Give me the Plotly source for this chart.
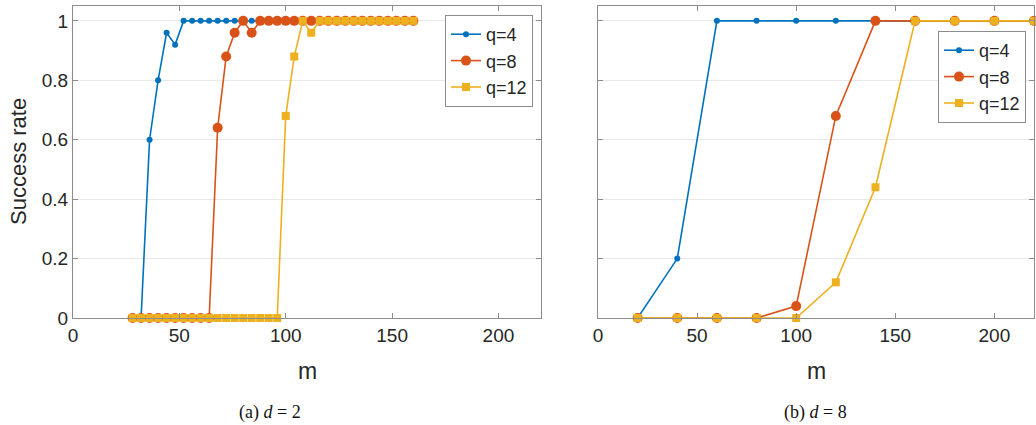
import plotly.graph_objects as go

# ---- data ----
m_a = [28, 32, 36, 40, 44, 48, 52, 56, 60, 64, 68, 72, 76, 80, 84, 88, 92, 96,
       100, 104, 108, 112, 116, 120, 124, 128, 132, 136, 140, 144, 148, 152, 156, 160]
q4_a = [0, 0, 0.6, 0.8, 0.96, 0.92] + [1] * 28
q8_a = [0] * 10 + [0.64, 0.88, 0.96, 1, 0.96] + [1] * 19
q12_a = [0] * 18 + [0.68, 0.88, 1, 0.96] + [1] * 12

m_b = [20, 40, 60, 80, 100, 120, 140, 160, 180, 200, 220]
q4_b = [0, 0.2, 1, 1, 1, 1, 1, 1, 1, 1, 1]
q8_b = [0, 0, 0, 0, 0.04, 0.68, 1, 1, 1, 1, 1]
q12_b = [0, 0, 0, 0, 0, 0.12, 0.44, 1, 1, 1, 1]

series_names = ["q=4", "q=8", "q=12"]
colors = ["#0072BD", "#D95319", "#EDB120"]
symbols = ["circle", "circle", "square"]
sizes = [6, 10, 8]

x_ticks = [0, 50, 100, 150, 200]
y_ticks = [0, 0.2, 0.4, 0.6, 0.8, 1]
y_ticktext = ["0", "0.2", "0.4", "0.6", "0.8", "1"]

W, H = 1036, 425
FONT = "Liberation Sans, Arial, sans-serif"
TXT = "#262626"

fig = go.Figure()

panels = [
    (m_a, [q4_a, q8_a, q12_a], "x", "y", "legend"),
    (m_b, [q4_b, q8_b, q12_b], "x2", "y2", "legend2"),
]
for mx, ys, xa, ya, lg in panels:
    for name, yv, c, s, sz in zip(series_names, ys, colors, symbols, sizes):
        fig.add_trace(go.Scatter(
            x=mx, y=yv, name=name, mode="lines+markers",
            line=dict(color=c, width=1.6),
            marker=dict(color=c, symbol=s, size=sz, line=dict(width=0)),
            xaxis=xa, yaxis=ya, legend=lg, cliponaxis=False,
        ))

def px_x(p):
    return p / W

def px_y(p):
    return 1 - p / H

axis_common = dict(
    showline=True, linecolor="#8c8c8c", linewidth=1, mirror="ticks",
    ticks="inside", ticklen=5, tickcolor="#8c8c8c", tickwidth=1,
    tickfont=dict(family=FONT, size=19, color=TXT), zeroline=False,
    automargin=False,
)

legend_common = dict(
    xanchor="right", yanchor="top",
    bgcolor="white", bordercolor="#8c8c8c", borderwidth=1,
    font=dict(family=FONT, size=18, color=TXT),
    tracegroupgap=0, itemwidth=30,
)

fig.update_layout(
    width=W, height=H,
    margin=dict(l=0, r=0, t=0, b=0, autoexpand=False),
    paper_bgcolor="white", plot_bgcolor="white",
    xaxis=dict(domain=[px_x(73), px_x(541)], range=[0, 220], tickvals=x_ticks,
               showgrid=False, anchor="y", **axis_common),
    yaxis=dict(domain=[px_y(318), px_y(6)], range=[0, 1.05], tickvals=y_ticks,
               ticktext=y_ticktext, showgrid=True, gridcolor="#e8e8e8",
               anchor="x", **axis_common),
    xaxis2=dict(domain=[px_x(598), px_x(1034)], range=[0, 220], tickvals=x_ticks,
                showgrid=False, anchor="y2", **axis_common),
    yaxis2=dict(domain=[px_y(318), px_y(6)], range=[0, 1.05], tickvals=y_ticks,
                showticklabels=False, showgrid=True, gridcolor="#e8e8e8",
                anchor="x2", **axis_common),
    legend=dict(x=px_x(533), y=px_y(15), **legend_common),
    legend2=dict(x=px_x(1026), y=px_y(31), **legend_common),
    showlegend=True,
)

annotations = [
    dict(text="Success rate", x=px_x(19), y=px_y(162), textangle=-90,
         font=dict(family=FONT, size=22, color=TXT)),
    dict(text="m", x=px_x(307), y=px_y(371), font=dict(family=FONT, size=23, color=TXT)),
    dict(text="m", x=px_x(816), y=px_y(371), font=dict(family=FONT, size=23, color=TXT)),
    dict(text="(a) <i>d</i> = 2", x=px_x(270), y=px_y(412),
         font=dict(family="Liberation Serif, Times New Roman, serif", size=18, color="#111")),
    dict(text="(b) <i>d</i> = 8", x=px_x(815), y=px_y(412),
         font=dict(family="Liberation Serif, Times New Roman, serif", size=18, color="#111")),
]
for a in annotations:
    fig.add_annotation(xref="paper", yref="paper", showarrow=False,
                       xanchor="center", yanchor="middle", **a)

fig.write_html(
    "out.html",
    post_script="document.body.style.margin='0px';document.body.style.overflow='hidden';",
    config={"displayModeBar": False},
)
